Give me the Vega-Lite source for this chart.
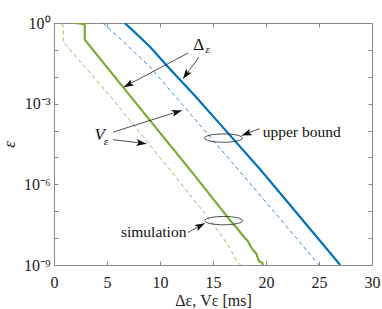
{
  "$schema": "https://vega.github.io/schema/vega-lite/v6.json",
  "width": 318,
  "height": 242,
  "autosize": "none",
  "padding": {"left": 54, "top": 23, "right": 10, "bottom": 44},
  "background": "white",
  "config": {
    "view": {"stroke": null},
    "axis": {
      "grid": false,
      "domainColor": "#8a8a8a",
      "domainWidth": 1,
      "tickColor": "#8a8a8a",
      "tickWidth": 1,
      "tickSize": -4,
      "labelFont": "Liberation Serif",
      "labelFontSize": 16,
      "labelColor": "#222222",
      "labelFlush": false,
      "labelOverlap": false,
      "titleFont": "Liberation Serif",
      "titleFontWeight": "normal",
      "titleColor": "#222222"
    }
  },
  "datasets": {
    "curves": [
      {"series": "ubD", "x": 6.67, "y": 1},
      {"series": "ubD", "x": 7.5, "y": 0.501},
      {"series": "ubD", "x": 9.03, "y": 0.1349},
      {"series": "ubD", "x": 11.0, "y": 0.0182},
      {"series": "ubD", "x": 13.27, "y": 0.002},
      {"series": "ubD", "x": 16.0, "y": 1.23e-4},
      {"series": "ubD", "x": 19.5, "y": 3.39e-6},
      {"series": "ubD", "x": 23.0, "y": 7.76e-8},
      {"series": "ubD", "x": 27.0, "y": 1e-9},
      {"series": "ubV", "x": 4.62, "y": 1},
      {"series": "ubV", "x": 6.5, "y": 0.209},
      {"series": "ubV", "x": 9.03, "y": 0.024},
      {"series": "ubV", "x": 11.6, "y": 1.585e-3},
      {"series": "ubV", "x": 14.5, "y": 7.41e-5},
      {"series": "ubV", "x": 17.6, "y": 2.82e-6},
      {"series": "ubV", "x": 21.0, "y": 7.41e-8},
      {"series": "ubV", "x": 25.0, "y": 1e-9},
      {"series": "simD", "x": 1.95, "y": 1},
      {"series": "simD", "x": 2.7, "y": 0.933},
      {"series": "simD", "x": 2.9, "y": 0.813},
      {"series": "simD", "x": 2.9, "y": 0.24},
      {"series": "simD", "x": 7.14, "y": 2.04e-3},
      {"series": "simD", "x": 12.9, "y": 3.24e-6},
      {"series": "simD", "x": 16.6, "y": 4.68e-8},
      {"series": "simD", "x": 17.3, "y": 2.24e-8},
      {"series": "simD", "x": 17.9, "y": 1.12e-8},
      {"series": "simD", "x": 18.3, "y": 7.59e-9},
      {"series": "simD", "x": 18.6, "y": 4.47e-9},
      {"series": "simD", "x": 18.9, "y": 3.16e-9},
      {"series": "simD", "x": 19.1, "y": 2.63e-9},
      {"series": "simD", "x": 19.25, "y": 1.66e-9},
      {"series": "simD", "x": 19.35, "y": 1.38e-9},
      {"series": "simD", "x": 19.65, "y": 1.2e-9},
      {"series": "simD", "x": 19.7, "y": 1e-9},
      {"series": "simV", "x": 0.07, "y": 1},
      {"series": "simV", "x": 0.47, "y": 1},
      {"series": "simV", "x": 0.87, "y": 0.813},
      {"series": "simV", "x": 0.87, "y": 0.195},
      {"series": "simV", "x": 5.25, "y": 2.04e-3},
      {"series": "simV", "x": 11.0, "y": 3.24e-6},
      {"series": "simV", "x": 14.53, "y": 5.89e-8},
      {"series": "simV", "x": 15.6, "y": 1.585e-8},
      {"series": "simV", "x": 16.58, "y": 4.47e-9},
      {"series": "simV", "x": 17.2, "y": 1.445e-9},
      {"series": "simV", "x": 17.6, "y": 1e-9}
    ],
    "labels": [
      {"id": "delta", "text": "Δ", "x": 13.65, "y": 0.148},
      {"id": "v", "text": "V", "x": 4.31, "y": 7.08e-5},
      {"id": "ub", "text": "upper bound", "x": 19.69, "y": 9.12e-5},
      {"id": "sim", "text": "simulation", "x": 12.49, "y": 1.74e-8}
    ],
    "subs": [
      {"text": "ε", "x": 14.5, "y": 0.0961},
      {"text": "ε", "x": 4.9, "y": 3.89e-5}
    ],
    "arrows": [
      {"id": "a1", "x": 12.64, "y": 0.0762, "x2": 6.58, "y2": 4.12e-3},
      {"id": "a2", "x": 13.68, "y": 0.0541, "x2": 12.17, "y2": 8.51e-3},
      {"id": "a3", "x": 5.57, "y": 8.71e-5, "x2": 12.05, "y2": 5.62e-4},
      {"id": "a4", "x": 5.57, "y": 4.57e-5, "x2": 8.72, "y2": 3.24e-5},
      {"id": "a5", "x": 19.41, "y": 1.175e-4, "x2": 17.71, "y2": 6.61e-5},
      {"id": "a6", "x": 12.64, "y": 1.62e-8, "x2": 14.22, "y2": 3.55e-8}
    ],
    "ellipses": [
      {"id": "ub", "x": 15.99, "y": 5.25e-5},
      {"id": "sim", "x": 16.01, "y": 4.47e-8}
    ]
  },
  "layer": [
    {
      "layer": [
        {
          "data": {"name": "curves"},
          "transform": [{"filter": "datum.series == 'ubV' || datum.series == 'simV'"}],
          "mark": {"type": "line", "clip": true, "strokeWidth": 0.8, "strokeDash": [4, 3]},
          "encoding": {
            "x": {"field": "x", "type": "quantitative",
                  "scale": {"domain": [0, 30], "nice": false, "zero": false},
                  "axis": {"orient": "bottom", "values": [0, 5, 10, 15, 20, 25, 30], "labelPadding": 13,
                           "title": "Δε, Vε [ms]", "titleFontSize": 16, "titlePadding": 2}},
            "y": {"field": "y", "type": "quantitative",
                  "scale": {"type": "log", "domain": [1e-9, 1], "nice": false},
                  "axis": {"orient": "left",
                           "values": [1e-9, 1e-8, 1e-7, 1e-6, 1e-5, 1e-4, 1e-3, 1e-2, 1e-1, 1],
                           "labelPadding": 8,
                           "labelExpr": "round(log(datum.value)/LN10) == 0 ? '10⁰' : round(log(datum.value)/LN10) == -3 ? '10⁻³' : round(log(datum.value)/LN10) == -6 ? '10⁻⁶' : round(log(datum.value)/LN10) == -9 ? '10⁻⁹' : ''",
                           "title": "ε", "titleFontSize": 17, "titleFontStyle": "italic", "titlePadding": 5}},
            "detail": {"field": "series"},
            "order": {"value": null},
            "color": {"field": "series", "type": "nominal", "legend": null,
                      "scale": {"domain": ["ubD", "ubV", "simD", "simV"], "range": ["#0072BD", "#0072BD", "#77AC30", "#77AC30"]}}
          }
        },
        {
          "data": {"name": "curves"},
          "transform": [{"filter": "datum.series == 'ubD' || datum.series == 'simD'"}],
          "mark": {"type": "line", "clip": true, "strokeWidth": 2.2},
          "encoding": {
            "x": {"field": "x", "type": "quantitative"},
            "y": {"field": "y", "type": "quantitative"},
            "detail": {"field": "series"},
            "order": {"value": null},
            "color": {"field": "series", "type": "nominal", "legend": null}
          }
        },
        {
          "data": {"name": "arrows"},
          "mark": {"type": "rule", "color": "#222222", "strokeWidth": 0.8},
          "encoding": {
            "x": {"field": "x", "type": "quantitative"},
            "y": {"field": "y", "type": "quantitative"},
            "x2": {"field": "x2"},
            "y2": {"field": "y2"}
          }
        },
        {"data": {"name": "arrows"}, "transform": [{"filter": "datum.id == 'a1'"}],
         "mark": {"type": "point", "shape": "M0,0 L0.55,1.6 L0,1.25 L-0.55,1.6 Z", "filled": true, "color": "#111111", "opacity": 1, "size": 156, "angle": 242.1},
         "encoding": {"x": {"field": "x2", "type": "quantitative"}, "y": {"field": "y2", "type": "quantitative"}}},
        {"data": {"name": "arrows"}, "transform": [{"filter": "datum.id == 'a2'"}],
         "mark": {"type": "point", "shape": "M0,0 L0.55,1.6 L0,1.25 L-0.55,1.6 Z", "filled": true, "color": "#111111", "opacity": 1, "size": 156, "angle": 216.5},
         "encoding": {"x": {"field": "x2", "type": "quantitative"}, "y": {"field": "y2", "type": "quantitative"}}},
        {"data": {"name": "arrows"}, "transform": [{"filter": "datum.id == 'a3'"}],
         "mark": {"type": "point", "shape": "M0,0 L0.55,1.6 L0,1.25 L-0.55,1.6 Z", "filled": true, "color": "#111111", "opacity": 1, "size": 156, "angle": 72.5},
         "encoding": {"x": {"field": "x2", "type": "quantitative"}, "y": {"field": "y2", "type": "quantitative"}}},
        {"data": {"name": "arrows"}, "transform": [{"filter": "datum.id == 'a4'"}],
         "mark": {"type": "point", "shape": "M0,0 L0.55,1.6 L0,1.25 L-0.55,1.6 Z", "filled": true, "color": "#111111", "opacity": 1, "size": 156, "angle": 96.8},
         "encoding": {"x": {"field": "x2", "type": "quantitative"}, "y": {"field": "y2", "type": "quantitative"}}},
        {"data": {"name": "arrows"}, "transform": [{"filter": "datum.id == 'a5'"}],
         "mark": {"type": "point", "shape": "M0,0 L0.55,1.6 L0,1.25 L-0.55,1.6 Z", "filled": true, "color": "#111111", "opacity": 1, "size": 156, "angle": 249.6},
         "encoding": {"x": {"field": "x2", "type": "quantitative"}, "y": {"field": "y2", "type": "quantitative"}}},
        {"data": {"name": "arrows"}, "transform": [{"filter": "datum.id == 'a6'"}],
         "mark": {"type": "point", "shape": "M0,0 L0.55,1.6 L0,1.25 L-0.55,1.6 Z", "filled": true, "color": "#111111", "opacity": 1, "size": 156, "angle": 61.7},
         "encoding": {"x": {"field": "x2", "type": "quantitative"}, "y": {"field": "y2", "type": "quantitative"}}},
        {
          "data": {"name": "ellipses"},
          "mark": {"type": "point", "shape": "M-1,0 A1,0.22 0 1 0 1,0 A1,0.22 0 1 0 -1,0 Z", "filled": false, "color": "#222222", "strokeWidth": 0.8, "size": 1444, "opacity": 1},
          "encoding": {"x": {"field": "x", "type": "quantitative"}, "y": {"field": "y", "type": "quantitative"}}
        },
        {
          "data": {"name": "labels"},
          "transform": [{"filter": "datum.id == 'delta'"}],
          "mark": {"type": "text", "font": "Liberation Serif", "fontSize": 17, "align": "center", "baseline": "middle", "color": "#111111"},
          "encoding": {"x": {"field": "x", "type": "quantitative"}, "y": {"field": "y", "type": "quantitative"}, "text": {"field": "text"}}
        },
        {
          "data": {"name": "labels"},
          "transform": [{"filter": "datum.id == 'v'"}],
          "mark": {"type": "text", "font": "Liberation Serif", "fontSize": 17, "fontStyle": "italic", "align": "center", "baseline": "middle", "color": "#111111"},
          "encoding": {"x": {"field": "x", "type": "quantitative"}, "y": {"field": "y", "type": "quantitative"}, "text": {"field": "text"}}
        },
        {
          "data": {"name": "labels"},
          "transform": [{"filter": "datum.id == 'ub'"}],
          "mark": {"type": "text", "font": "Liberation Serif", "fontSize": 15.5, "align": "left", "baseline": "middle", "color": "#111111"},
          "encoding": {"x": {"field": "x", "type": "quantitative"}, "y": {"field": "y", "type": "quantitative"}, "text": {"field": "text"}}
        },
        {
          "data": {"name": "labels"},
          "transform": [{"filter": "datum.id == 'sim'"}],
          "mark": {"type": "text", "font": "Liberation Serif", "fontSize": 15.5, "align": "right", "baseline": "middle", "color": "#111111"},
          "encoding": {"x": {"field": "x", "type": "quantitative"}, "y": {"field": "y", "type": "quantitative"}, "text": {"field": "text"}}
        },
        {
          "data": {"name": "subs"},
          "mark": {"type": "text", "font": "Liberation Serif", "fontSize": 11, "fontStyle": "italic", "align": "center", "baseline": "middle", "color": "#111111"},
          "encoding": {"x": {"field": "x", "type": "quantitative"}, "y": {"field": "y", "type": "quantitative"}, "text": {"field": "text"}}
        }
      ]
    },
    {
      "data": {"name": "curves"},
      "mark": {"type": "point", "opacity": 0},
      "encoding": {
        "x": {"field": "x", "type": "quantitative",
              "axis": {"orient": "top", "values": [0, 5, 10, 15, 20, 25, 30], "labels": false, "title": null}},
        "y": {"field": "y", "type": "quantitative",
              "axis": {"orient": "right", "values": [1e-9, 1e-8, 1e-7, 1e-6, 1e-5, 1e-4, 1e-3, 1e-2, 1e-1, 1], "labels": false, "title": null}}
      }
    }
  ],
  "resolve": {"axis": {"x": "independent", "y": "independent"}}
}
